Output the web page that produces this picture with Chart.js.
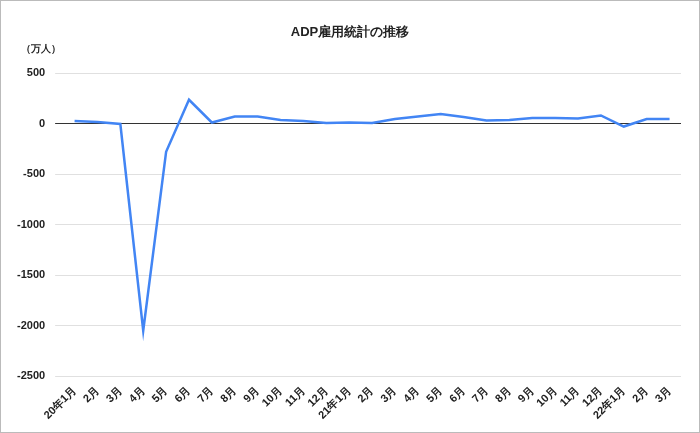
<!DOCTYPE html>
<html><head><meta charset="utf-8">
<script src="https://cdn.jsdelivr.net/npm/chart.js@4"></script>
<style>html,body{margin:0;padding:0;background:#fff}#w{width:698px;height:431px;border:1px solid #bbb;position:relative}</style>
</head><body><div id="w"><canvas id="c"></canvas></div>
<script>
const labels=['20年1月','2月','3月','4月','5月','6月','7月','8月','9月','10月','11月','12月','21年1月','2月','3月','4月','5月','6月','7月','8月','9月','10月','11月','12月','22年1月','2月','3月'];
const values=[25,15,-5,-2050,-280,235,10,70,70,35,25,5,10,5,45,70,95,65,30,35,55,55,50,80,-30,45,45];
const yTicks=[500,0,-500,-1000,-1500,-2000,-2500];
const F='"Liberation Sans", Arial, sans-serif';
const extra={id:'extra',afterDraw(ch){const c=ch.ctx;c.save();c.fillStyle='#222';c.font='bold 13px '+F;c.textAlign='center';c.fillText('ADP雇用統計の推移',349,35);c.font='bold 10px '+F;c.textAlign='left';c.fillText('（万人）',20,51);c.restore();}};
new Chart(document.getElementById('c'),{type:'line',data:{labels,datasets:[{data:values,borderColor:'#4285f4',borderWidth:2.5,pointRadius:0,tension:0,fill:false}]},
options:{responsive:true,maintainAspectRatio:false,animation:false,layout:{padding:{top:72,right:18,left:6,bottom:10}},
plugins:{legend:{display:false},tooltip:{enabled:false}},
scales:{x:{offset:true,grid:{display:false},border:{display:false},ticks:{color:'#222',font:{family:F,size:11,weight:'bold'},maxRotation:45,minRotation:45,autoSkip:false,padding:0}},
y:{min:-2500,max:500,afterBuildTicks(a){a.ticks=yTicks.map(v=>({value:v}));},border:{display:false},grid:{color:c=>c.tick.value===0?'#333':'#e0e0e0',lineWidth:1},ticks:{color:'#222',font:{family:F,size:11,weight:'bold'},padding:10,callback:v=>String(v)}}}},
plugins:[extra]});
</script></body></html>
